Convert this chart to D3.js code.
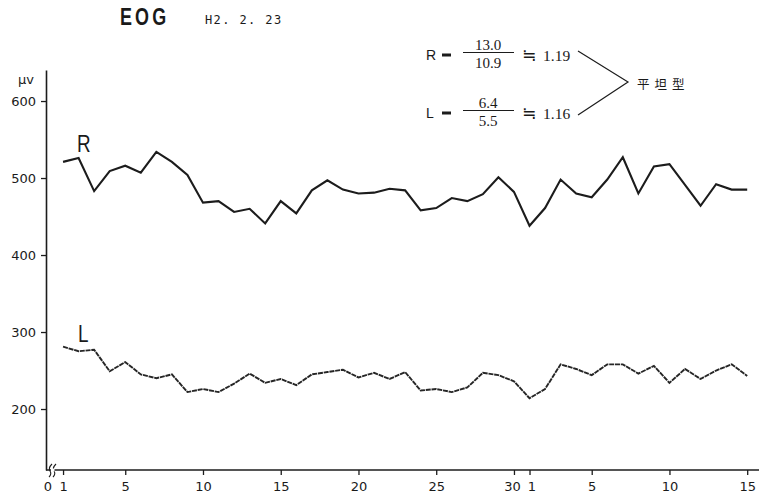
<!DOCTYPE html>
<html lang="ja">
<head>
<meta charset="UTF-8">
<title>EOG</title>
<script src="https://d3js.org/d3.v7.min.js"></script>
<style>
  body { margin: 0; background: #fff; }
  svg { display: block; }
  text { fill: #1a1a1a; }
</style>
</head>
<body>
<svg id="chart" width="759" height="503"></svg>
<script>
// day labels: month 1 (1..30), month 2 (1..15)
var dayLabels = [1,2,3,4,5,6,7,8,9,10,11,12,13,14,15,16,17,18,19,20,21,22,23,24,25,26,27,28,29,30,
                 1,2,3,4,5,6,7,8,9,10,11,12,13,14,15];
// EOG (μV)
var rValues = [521,526,483,509,516,507,534,521,504,468,470,456,460,441,470,454,484,497,485,480,481,486,484,458,461,474,470,479,501,482,
               438,461,498,480,475,498,527,480,515,518,491,464,492,485,485];
var lValues = [281,275,277,249,261,245,240,245,222,226,222,233,246,234,239,231,245,248,251,241,247,239,248,224,226,222,228,247,244,236,
               214,226,258,252,244,258,258,246,256,234,252,239,250,258,243];
var xTickIndex = [-1,0,4,9,14,19,24,29,30,34,39,44];
var xTickText  = ["0","1","5","10","15","20","25","30","1","5","10","15"];
var yTicks = [200,300,400,500,600];

var svg = d3.select('#chart');
var ink = '#1c1c1c';
var labFont = '"Liberation Sans", "DejaVu Sans", sans-serif';

var x = d3.scaleLinear().domain([-1, 44]).range([47.5, 747.2]);
var y = d3.scaleLinear().domain([120.8, 640.3]).range([470, 70]);

// y axis
var yAxis = d3.axisLeft(y).tickValues(yTicks).tickSize(5).tickSizeOuter(0).tickPadding(5);
var gy = svg.append('g').attr('transform', 'translate(46,0)').call(yAxis);
gy.select('.domain').attr('stroke', ink).attr('stroke-width', 1.6);
gy.selectAll('.tick line').attr('stroke', ink).attr('stroke-width', 1.3);
gy.selectAll('.tick text')
  .attr('font-family', '"DejaVu Sans", sans-serif')
  .attr('font-size', 13).attr('fill', ink);

svg.append('text').attr('x', 18).attr('y', 84)
  .attr('font-family', '"DejaVu Sans", sans-serif')
  .attr('font-size', 13).text('μv');

// x axis
var xAxis = d3.axisBottom(x).tickValues(xTickIndex)
  .tickFormat(function(d, i){ return xTickText[i]; })
  .tickSize(5).tickPadding(7);
var gx = svg.append('g').attr('transform', 'translate(0,470)').call(xAxis);
gx.select('.domain').remove();
gx.selectAll('.tick line').attr('stroke', ink).attr('stroke-width', 1.3)
  .filter(function(d){ return d < 0; }).remove();
gx.selectAll('.tick text')
  .attr('font-family', '"DejaVu Sans", sans-serif')
  .attr('font-size', 13).attr('fill', ink);
gx.selectAll('.tick text').filter(function(d){ return d === 29; }).attr('dx', -2);
gx.selectAll('.tick text').filter(function(d){ return d === 30; }).attr('dx', 2);

svg.append('line')
  .attr('x1', 46).attr('x2', 759).attr('y1', 470).attr('y2', 470)
  .attr('stroke', ink).attr('stroke-width', 1.6);

// axis break mark
[51, 55].forEach(function(bx){
  svg.append('path')
    .attr('d', 'M' + (bx - 2) + ',477 q3,-3 1,-6 q-2,-3 2,-7')
    .attr('fill', 'none').attr('stroke', ink).attr('stroke-width', 1.1);
});
svg.append('rect').attr('x', 51).attr('y', 468.5).attr('width', 3.5).attr('height', 3).attr('fill', '#fff');

// series
var line = d3.line()
  .x(function(d, i){ return x(i); })
  .y(function(d){ return y(d); });

svg.append('path').datum(rValues)
  .attr('d', line)
  .attr('fill', 'none').attr('stroke', ink).attr('stroke-width', 2.1);

svg.append('path').datum(lValues)
  .attr('d', line)
  .attr('fill', 'none').attr('stroke', '#262626').attr('stroke-width', 1.9)
  .attr('stroke-dasharray', '5,0.8');

// series names, narrow print face
svg.append('text').attr('transform', 'translate(77,152) scale(0.82,1)')
  .attr('font-family', labFont).attr('font-size', 23).text('R');
svg.append('text').attr('transform', 'translate(78,342) scale(0.82,1)')
  .attr('font-family', labFont).attr('font-size', 23).text('L');

// title
svg.append('text').attr('transform', 'translate(120,25) scale(0.78,1)')
  .attr('font-family', labFont).attr('font-weight', 'bold')
  .attr('font-size', 23).attr('letter-spacing', 4).text('EOG');
svg.append('text').attr('x', 205).attr('y', 24)
  .attr('font-family', '"DejaVu Sans Mono", monospace')
  .attr('font-size', 12).attr('letter-spacing', 1.4).text('H2. 2. 23');

// ratio annotation
var serif = '"Liberation Serif", "DejaVu Serif", serif';
function ratioRow(name, num, den, res, cy) {
  svg.append('text').attr('x', 426).attr('y', cy + 5).attr('font-family', labFont).attr('font-size', 14).text(name);
  svg.append('rect').attr('x', 442).attr('y', cy - 1.5).attr('width', 9).attr('height', 3).attr('fill', ink);
  svg.append('line').attr('x1', 463).attr('x2', 514).attr('y1', cy - 2.5).attr('y2', cy - 2.5)
    .attr('stroke', ink).attr('stroke-width', 1.2);
  svg.append('text').attr('x', 488).attr('y', cy - 5).attr('text-anchor', 'middle')
    .attr('font-family', serif).attr('font-size', 15).text(num);
  svg.append('text').attr('x', 488).attr('y', cy + 13).attr('text-anchor', 'middle')
    .attr('font-family', serif).attr('font-size', 15).text(den);
  svg.append('text').attr('x', 522).attr('y', cy + 6)
    .attr('font-family', '"DejaVu Sans", sans-serif').attr('font-size', 17).text('≒');
  svg.append('text').attr('x', 543).attr('y', cy + 5.5)
    .attr('font-family', serif).attr('font-size', 15.5).text(res);
}
ratioRow('R', '13.0', '10.9', '1.19', 55);
ratioRow('L', '6.4', '5.5', '1.16', 113);

svg.append('path')
  .attr('d', 'M578,51 L628,82 L578,115')
  .attr('fill', 'none').attr('stroke', ink).attr('stroke-width', 1.2);
svg.append('text').attr('x', 637).attr('y', 89)
  .attr('font-family', '"Noto Sans CJK JP", sans-serif')
  .attr('font-size', 12.5).attr('letter-spacing', 5).text('平坦型');
</script>
</body>
</html>
